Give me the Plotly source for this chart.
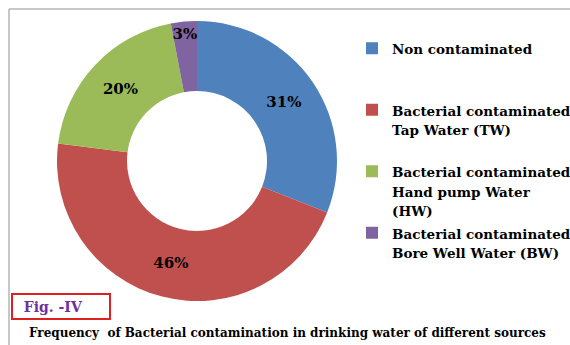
import plotly.graph_objects as go

# ---- data ----
categories = [
    "Non contaminated",
    "Bacterial contaminated<br>Tap Water (TW)",
    "Bacterial contaminated<br>Hand pump Water<br>(HW)",
    "Bacterial contaminated<br>Bore Well Water (BW)",
]
percent_values = [31, 46, 20, 3]
slice_colors = ["#4F81BD", "#C0504D", "#9BBB59", "#8064A2"]
fig_label = "Fig. -IV"
caption = "Frequency  of Bacterial contamination in drinking water of different sources"

W, H = 570, 345
SERIF = "DejaVu Serif"

# pad each legend entry to 3 lines (line pitch set by the 15px legend font),
# drawing the visible text a little smaller
def legend_text(lbl, n=3, px=13.5):
    lines = lbl.split("<br>")
    lines += [" "] * max(0, n - len(lines))
    return "<br>".join(f'<span style="font-size:{px}px"><b>{ln}</b></span>' for ln in lines)

legend_labels = [legend_text(c) for c in categories]

fig = go.Figure()
fig.add_trace(go.Pie(
    labels=legend_labels,
    values=percent_values,
    marker=dict(colors=slice_colors, line=dict(width=0)),
    hole=0.5,
    sort=False,
    direction="clockwise",
    rotation=0,
    texttemplate="<b>%{value}%</b>",
    textposition="inside",
    insidetextorientation="horizontal",
    insidetextfont=dict(family=SERIF, size=15, color="black"),
    domain=dict(x=[57 / W, 337 / W], y=[1 - 301 / H, 1 - 21 / H]),
    hoverinfo="percent",
))

fig.add_shape(type="line", xref="paper", yref="paper",
              x0=9 / W, x1=1, y0=1 - 9 / H, y1=1 - 9 / H,
              line=dict(color="#B4B4B4", width=1.5))
fig.add_shape(type="line", xref="paper", yref="paper",
              x0=9 / W, x1=9 / W, y0=1 - 9 / H, y1=0,
              line=dict(color="#B4B4B4", width=1.5))

fig.add_annotation(
    text="<b>\u00a0\u00a0" + fig_label + "</b>", xref="paper", yref="paper",
    x=11 / W, y=1 - 293 / H, xanchor="left", yanchor="top",
    showarrow=False, align="left", width=94, height=21,
    bordercolor="#E02020", borderwidth=2, borderpad=1,
    font=dict(family=SERIF, size=14, color="#7030A0"),
)

fig.add_annotation(
    text=f"<b>{caption}</b>", xref="paper", yref="paper",
    x=27 / W, y=1 - 333 / H, xanchor="left", yanchor="middle",
    showarrow=False,
    font=dict(family=SERIF, size=12, color="black"),
)

fig.update_layout(
    width=W, height=H,
    margin=dict(l=0, r=0, t=0, b=0, autoexpand=False),
    paper_bgcolor="white", plot_bgcolor="white",
    uniformtext=dict(minsize=15, mode="show"),
    showlegend=True,
    legend=dict(
        x=352 / W, y=1 - 32 / H, xanchor="left", yanchor="top",
        valign="top", traceorder="normal",
        font=dict(family=SERIF, size=15, color="black"),
        bgcolor="rgba(0,0,0,0)",
    ),
)

fig.write_html("out.html")
